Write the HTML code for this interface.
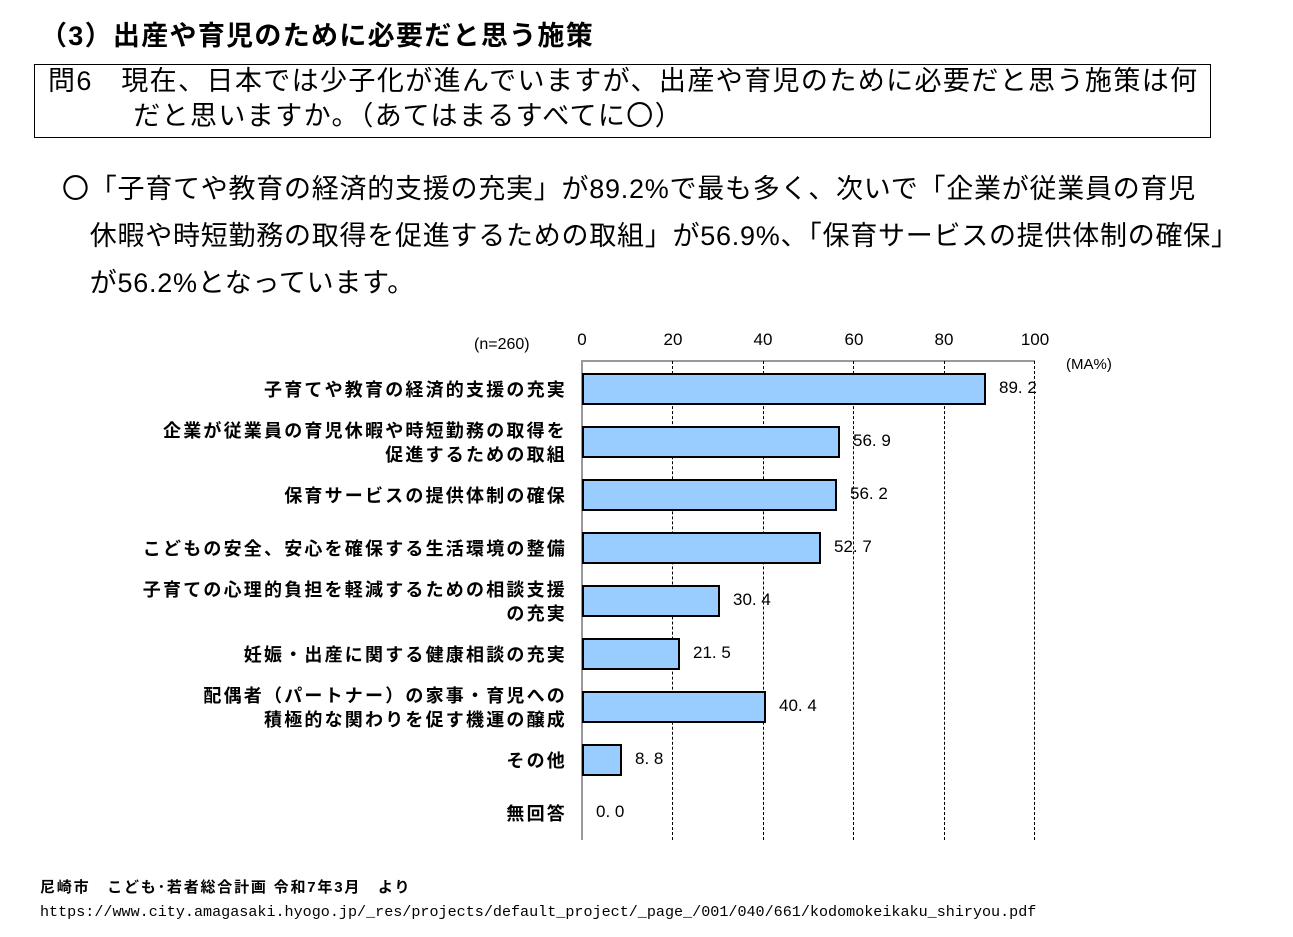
<!DOCTYPE html>
<html><head><meta charset="utf-8"><style>
body{margin:0;width:1293px;height:937px;background:#fff;font-family:"Liberation Sans","Noto Sans CJK JP",sans-serif;color:#000;position:relative;overflow:hidden}
.a{position:absolute;white-space:nowrap}
.lab{position:absolute;right:726px;text-align:right;font-size:18px;letter-spacing:2.2px;font-weight:bold;line-height:24px;font-family:"Noto Sans CJK JP",sans-serif}
.val{position:absolute;font-size:17px;font-family:"Liberation Sans Narrow","Liberation Sans",sans-serif}
.bar{position:absolute;left:582px;height:32px;background:#99ccff;border:2px solid #000;box-sizing:border-box}
.tk{position:absolute;top:330px;font-size:17px;width:60px;text-align:center}
.grid{position:absolute;top:361px;height:479px;border-left:1px dashed #000}
</style></head><body>
<div class="a" style="left:40px;top:14px;font-size:27px;font-weight:bold;letter-spacing:1.3px">（3）出産や育児のために必要だと思う施策</div>
<div class="a" style="left:34px;top:64px;width:1175px;height:72px;border:1.5px solid #000"></div>
<div class="a" style="left:48px;top:64px;font-size:27px;line-height:35px;letter-spacing:1.4px">問6　現在、日本では少子化が進んでいますが、出産や育児のために必要だと思う施策は何<br>　　　だと思いますか。（あてはまるすべてに〇）</div>
<div class="a" style="left:62px;top:166px;font-size:27px;line-height:47px;letter-spacing:0.75px">〇「子育てや教育の経済的支援の充実」が89.2%で最も多く、次いで「企業が従業員の育児<br>　休暇や時短勤務の取得を促進するための取組」が56.9%、「保育サービスの提供体制の確保」<br>　が56.2%となっています。</div>

<div class="a" style="left:474px;top:336px;font-size:16px">(n=260)</div>
<div class="tk" style="left:552px">0</div><div class="tk" style="left:643px">20</div><div class="tk" style="left:733px">40</div><div class="tk" style="left:824px">60</div><div class="tk" style="left:914px">80</div><div class="tk" style="left:1005px">100</div>
<div class="a" style="left:1066px;top:356px;font-size:15px">(MA%)</div>
<div class="a" style="left:582px;top:360px;width:453px;border-top:2px solid #999"></div>
<div class="a" style="left:581px;top:360px;height:480px;border-left:2px solid #999"></div>
<div class="grid" style="left:672px"></div><div class="grid" style="left:763px"></div><div class="grid" style="left:853px"></div><div class="grid" style="left:944px"></div><div class="grid" style="left:1034px"></div>

<div class="bar" style="top:373px;width:404px"></div><div class="val" style="left:999px;top:378px">89. 2</div>
<div class="bar" style="top:426px;width:258px"></div><div class="val" style="left:853px;top:431px">56. 9</div>
<div class="bar" style="top:479px;width:255px"></div><div class="val" style="left:850px;top:484px">56. 2</div>
<div class="bar" style="top:532px;width:239px"></div><div class="val" style="left:834px;top:537px">52. 7</div>
<div class="bar" style="top:585px;width:138px"></div><div class="val" style="left:733px;top:590px">30. 4</div>
<div class="bar" style="top:638px;width:98px"></div><div class="val" style="left:693px;top:643px">21. 5</div>
<div class="bar" style="top:691px;width:184px"></div><div class="val" style="left:779px;top:696px">40. 4</div>
<div class="bar" style="top:744px;width:40px"></div><div class="val" style="left:635px;top:749px">8. 8</div>
<div class="val" style="left:596px;top:802px">0. 0</div>

<div class="lab" style="top:377px">子育てや教育の経済的支援の充実</div>
<div class="lab" style="top:418px">企業が従業員の育児休暇や時短勤務の取得を<br>促進するための取組</div>
<div class="lab" style="top:483px">保育サービスの提供体制の確保</div>
<div class="lab" style="top:536px">こどもの安全、安心を確保する生活環境の整備</div>
<div class="lab" style="top:577px">子育ての心理的負担を軽減するための相談支援<br>の充実</div>
<div class="lab" style="top:642px">妊娠・出産に関する健康相談の充実</div>
<div class="lab" style="top:683px">配偶者（パートナー）の家事・育児への<br>積極的な関わりを促す機運の醸成</div>
<div class="lab" style="top:748px">その他</div>
<div class="lab" style="top:801px">無回答</div>

<div class="a" style="left:40px;top:876px;font-size:15px;font-weight:bold;letter-spacing:1.8px">尼崎市　こども･若者総合計画 令和7年3月　より</div>
<div class="a" style="left:40px;top:903px;font-size:15.1px;font-family:'Liberation Mono',monospace">https://www.city.amagasaki.hyogo.jp/_res/projects/default_project/_page_/001/040/661/kodomokeikaku_shiryou.pdf</div>
</body></html>
